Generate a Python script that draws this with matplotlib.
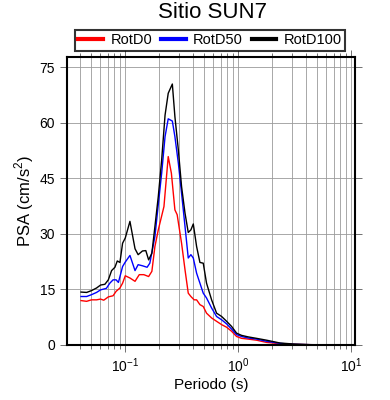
import matplotlib
matplotlib.use("Agg")
import matplotlib.pyplot as plt
import numpy as np
from matplotlib.ticker import LogLocator, NullFormatter, FixedLocator

plt.rcParams['font.family'] = ['Liberation Sans', 'DejaVu Sans']
plt.rcParams['mathtext.fontset'] = 'custom'
plt.rcParams['mathtext.rm'] = 'Liberation Sans'

title = "Sitio SUN7"
series_names = ["RotD0", "RotD50", "RotD100"]

period_d100 = [0.0406, 0.0455, 0.0503, 0.0557, 0.0605, 0.066, 0.0708, 0.0757, 0.081, 0.085,
               0.0897, 0.0947, 0.1, 0.110, 0.122, 0.130, 0.142, 0.152, 0.161, 0.172,
               0.183, 0.196, 0.210, 0.225, 0.240, 0.261, 0.275, 0.295, 0.315, 0.338,
               0.361, 0.381, 0.400, 0.428, 0.458, 0.490, 0.524, 0.581, 0.643, 0.713,
               0.789, 0.874, 0.967, 1.07, 1.22, 1.45, 1.78, 2.34, 3.07, 4.31, 6.05, 10.0]
psa_d100 = [14.3, 14.2, 14.7, 15.4, 16.2, 16.4, 17.6, 20.1, 21.0, 22.7,
            22.3, 27.5, 28.9, 33.4, 26.0, 24.4, 25.4, 25.5, 23.0, 24.8,
            32.0, 40.1, 50.0, 62.1, 68.0, 70.5, 61.7, 52.7, 42.8, 35.6,
            30.4, 31.1, 32.7, 26.6, 22.3, 22.1, 16.7, 12.2, 8.6, 7.7,
            6.4, 5.0, 3.2, 2.6, 2.2, 1.8, 1.3, 0.54, 0.27, 0.09, 0.03, 0.01]

period_d50 = [0.0406, 0.0455, 0.0503, 0.0557, 0.0605, 0.0680, 0.0730, 0.0780, 0.0830, 0.0870,
              0.0947, 0.1, 0.110, 0.122, 0.130, 0.142, 0.156, 0.165, 0.183, 0.196,
              0.210, 0.225, 0.240, 0.261, 0.275, 0.295, 0.315, 0.338, 0.361, 0.381,
              0.400, 0.428, 0.458, 0.490, 0.524, 0.581, 0.643, 0.713, 0.789, 0.874,
              0.967, 1.07, 1.22, 1.45, 1.78, 2.34, 3.07, 4.31, 10.0]
psa_d50 = [13.1, 13.1, 13.6, 14.2, 14.9, 15.3, 16.7, 17.6, 17.6, 16.9,
           21.2, 22.4, 24.2, 20.1, 21.7, 21.4, 21.0, 22.1, 29.3, 37.9,
           46.4, 56.3, 61.1, 60.5, 56.3, 49.1, 41.0, 32.0, 23.5, 24.4,
           23.5, 19.4, 16.7, 14.0, 12.7, 10.0, 7.7, 6.8, 5.7, 4.3,
           2.8, 2.3, 1.9, 1.6, 1.0, 0.45, 0.18, 0.09, 0.01]

period_d0 = [0.0406, 0.0455, 0.0503, 0.0557, 0.0605, 0.0645, 0.0708, 0.0780, 0.0830, 0.0897,
             0.0947, 0.1, 0.110, 0.122, 0.133, 0.146, 0.161, 0.172, 0.183, 0.196,
             0.220, 0.240, 0.256, 0.275, 0.288, 0.315, 0.338, 0.361, 0.381, 0.407,
             0.428, 0.458, 0.490, 0.524, 0.581, 0.643, 0.713, 0.789, 0.874, 0.967,
             1.07, 1.22, 1.45, 1.78, 2.34, 3.07, 4.31, 10.0]
psa_d0 = [12.0, 11.8, 12.2, 12.2, 12.4, 12.1, 13.0, 13.3, 14.5, 15.4,
          16.7, 18.7, 18.1, 17.2, 19.0, 19.0, 18.5, 19.9, 26.6, 31.1,
          37.4, 50.9, 46.4, 36.5, 35.2, 27.5, 20.3, 14.0, 13.1, 12.2,
          12.2, 10.9, 10.4, 8.6, 7.3, 6.4, 5.5, 4.8, 3.7, 2.3,
          1.8, 1.6, 1.3, 0.7, 0.36, 0.18, 0.09, 0.01]

y_ticks = [0, 15, 30, 45, 60, 75]

fig = plt.figure(figsize=(3.9, 4.0), dpi=100)
ax = fig.add_axes([67/390, 1-345/400, (355-67)/390, (345-57)/400])

lr, = ax.plot(period_d0, psa_d0, color='#ff0000', lw=1.0)
lb, = ax.plot(period_d50, psa_d50, color='#0000ff', lw=1.0)
lk, = ax.plot(period_d100, psa_d100, color='black', lw=1.0)

ax.set_xscale('log')
ax.set_xlim(0.0305, 10.8)
ax.set_ylim(0, 77.8)
ax.yaxis.set_major_locator(FixedLocator(y_ticks))
ax.xaxis.set_major_locator(LogLocator(base=10, numticks=10))
ax.xaxis.set_minor_locator(LogLocator(base=10, subs=np.arange(2, 10), numticks=20))
ax.xaxis.set_minor_formatter(NullFormatter())

ax.grid(True, which='major', axis='both', color='#9a9a9a', lw=0.6)
ax.grid(True, which='minor', axis='x', color='#9a9a9a', lw=0.6)
ax.set_axisbelow(True)

ax.tick_params(axis='both', which='both', direction='out', top=True, right=True,
               labelsize=10, width=0.7, color='#707070')
ax.tick_params(axis='both', which='major', length=5)
ax.tick_params(axis='x', which='minor', length=3)
for s in ax.spines.values():
    s.set_linewidth(1.5)

ax.set_xlabel('Periodo (s)', fontsize=11, labelpad=2)
ax.set_ylabel('PSA (cm/s$^2$)', fontsize=12, labelpad=3)
fig.text(0.546, 1-13/400, title, ha='center', va='center', fontsize=16)

leg = fig.legend([lr, lb, lk], series_names, ncol=3, loc='center',
                 bbox_to_anchor=(210/390, 1-40.5/400),
                 frameon=True, fancybox=False, fontsize=10.5,
                 handlelength=1.7, handletextpad=0.5, borderaxespad=0, borderpad=0.25,
                 columnspacing=0.6)
for h in leg.legend_handles:
    h.set_linewidth(3)
leg.get_frame().set_edgecolor('black')
leg.get_frame().set_linewidth(1.5)

fig.savefig('out.png', dpi=100)
